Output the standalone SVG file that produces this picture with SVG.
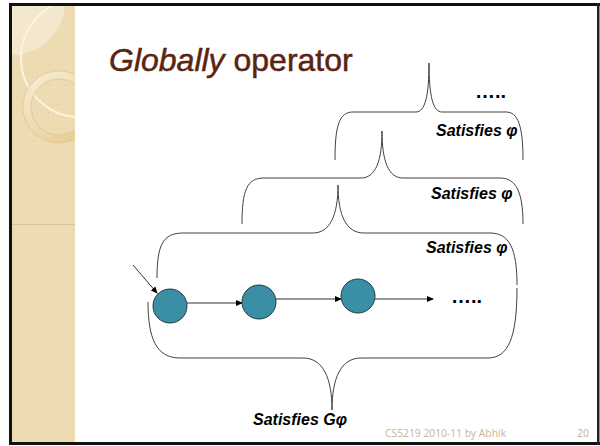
<svg xmlns="http://www.w3.org/2000/svg" width="600" height="446" viewBox="0 0 600 446">
<style>
.brace{fill:none;stroke:#404040;stroke-width:1}
.lbl{font-family:"Liberation Sans",Arial,sans-serif;font-weight:bold;font-style:italic;font-size:16px;fill:#000}
.dots{font-family:"Liberation Sans",Arial,sans-serif;font-weight:bold;font-size:20px;fill:#000}
.node{fill:#3A8FA5;stroke:#1F3A40;stroke-width:1}
.edge{fill:none;stroke:#333;stroke-width:1}
.foot{font-family:"Noto Sans","Open Sans",sans-serif;font-size:10.3px;fill:#C9B99B}
</style>
<defs>
<marker id="ah" markerWidth="7" markerHeight="6" refX="6" refY="3" orient="auto" markerUnits="userSpaceOnUse">
<path d="M0,0 L7,3 L0,6 Z" fill="#000"/>
</marker>
<clipPath id="side"><rect x="12" y="6" width="63" height="436"/></clipPath>
<linearGradient id="ringg" x1="0" y1="0" x2="0.6" y2="1">
<stop offset="0" stop-color="#F8EFD8"/>
<stop offset="1" stop-color="#EACF92"/>
</linearGradient>
<pattern id="grid" width="4" height="4" patternUnits="userSpaceOnUse">
<rect width="4" height="4" fill="#EEDCB3"/>
<rect width="2" height="2" fill="#EBD8AE"/>
</pattern>
</defs>
<rect x="0" y="0" width="600" height="446" fill="#fff"/>
<!-- sidebar -->
<g clip-path="url(#side)">
<rect x="12" y="6" width="63" height="436" fill="url(#grid)"/>
<circle cx="12" cy="2" r="53" fill="#F3E8CE"/>
<circle cx="80" cy="58" r="59" fill="none" stroke="#FBF4DF" stroke-width="2"/>
<path d="M59,71 A36,36 0 1 1 58.9,71 Z M59,79 A28,28 0 1 0 59.1,79 Z" fill="url(#ringg)" fill-rule="evenodd" stroke="#D9C59C" stroke-width="0.8"/>
<line x1="12" y1="224.5" x2="75" y2="224.5" stroke="#D6C49E" stroke-width="1"/>
</g>
<!-- frame -->
<rect x="9" y="3" width="591" height="3" fill="#111"/>
<rect x="9" y="442" width="591" height="3" fill="#111"/>
<rect x="9" y="3" width="3" height="442" fill="#111"/>
<rect x="597" y="3" width="2.5" height="442" fill="#222"/>
<!-- title -->
<text x="109" y="71" font-family="'Liberation Sans',Arial,sans-serif" font-size="32" fill="#5A2412" stroke="#5A2412" stroke-width="0.5"><tspan font-style="italic">Globally</tspan> operator</text>
<!-- braces -->
<g id="braces">
<path class="brace" d="M335,160 C335,126 339,112 353,112 L416,112 C425,112 429,96 429,63 C429,96 433,112 442,112 L506,112 C518,112 523,126 523,160"/>
<path class="brace" d="M242,224 C242,190 247,178 264,178 L361,178 C376,178 382,160 382,131 C382,160 388,178 403,178 L500,178 C516,178 523,192 523,224"/>
<path class="brace" d="M157,278 C157,245 163,233 183,233 L313,233 C330,233 338,215 338,185 C338,215 346,233 364,233 L490,233 C509,233 517,248 517,285"/>
<path class="brace" d="M148,302 C148,338 156,358 180,358 L303,358 C323,358 332,378 332,410 C332,378 341,358 361,358 L488,358 C508,358 517,338 517,288"/>
</g>
<!-- labels -->
<text class="lbl" x="436" y="136">Satisfies φ</text>
<text class="lbl" x="431" y="199">Satisfies φ</text>
<text class="lbl" x="426" y="253">Satisfies φ</text>
<text class="lbl" x="253" y="425">Satisfies Gφ</text>
<text class="dots" x="475" y="98">…..</text>
<text class="dots" x="451" y="303">…..</text>
<!-- connectors -->
<g id="connectors">
<line class="edge" x1="133" y1="265" x2="157" y2="293" marker-end="url(#ah)"/>
<line class="edge" x1="187" y1="303" x2="242" y2="303" marker-end="url(#ah)"/>
<line class="edge" x1="276" y1="299" x2="341" y2="299" marker-end="url(#ah)"/>
<line class="edge" x1="375" y1="299" x2="433" y2="299" marker-end="url(#ah)"/>
</g>
<g id="n1"><circle class="node" cx="170" cy="306" r="17"/></g>
<g id="n2"><circle class="node" cx="259" cy="302" r="17"/></g>
<g id="n3"><circle class="node" cx="358" cy="296" r="17"/></g>
<!-- footer -->
<text class="foot" x="385" y="437">CS5219 2010-11 by Abhik</text>
<text class="foot" x="577" y="437">20</text>
</svg>
